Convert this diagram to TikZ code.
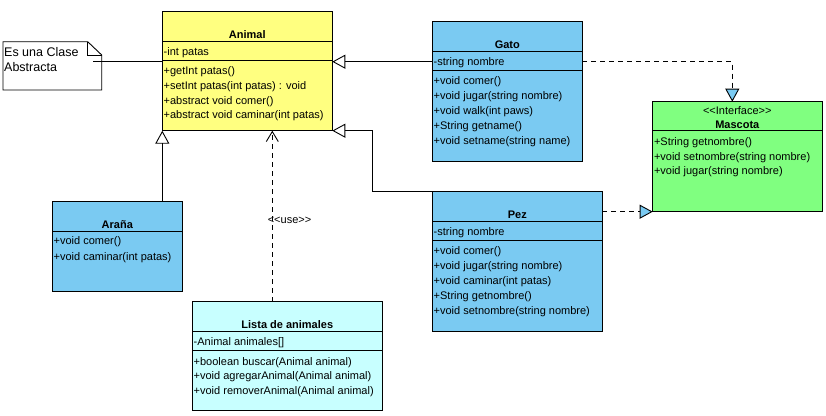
\documentclass[tikz,border=0pt]{standalone}
\usepackage{fontspec}
\newfontfamily\umlfont{Liberation Sans}
\usetikzlibrary{arrows.meta}
\definecolor{animalyellow}{RGB}{255,255,128}
\definecolor{classblue}{RGB}{122,202,242}
\definecolor{ifacegreen}{RGB}{128,255,128}
\definecolor{listcyan}{RGB}{200,255,255}
\begin{document}
\begin{tikzpicture}[x=1pt,y=-1pt,
  box/.style={draw=black, line width=0.9pt, anchor=north west, inner sep=0pt, outer sep=0pt},
  titletext/.style={font=\umlfont\fontsize{11}{13}\selectfont\bfseries, inner sep=0pt, text height=10pt, text depth=1.5pt},
  member/.style={font=\umlfont\fontsize{11}{13}\selectfont, anchor=west, inner sep=0pt, text height=10pt, text depth=1.5pt},
  stereo/.style={font=\umlfont\fontsize{11}{13}\selectfont, inner sep=0pt, text height=10pt, text depth=1.5pt},
  notetext/.style={font=\umlfont\fontsize{12.5}{15}\selectfont, anchor=west, inner sep=0pt, text height=10.5pt, text depth=1.5pt},
  sepline/.style={line width=0.9pt},
  conn/.style={line width=0.9pt},
  gen/.style={conn, -{Triangle[open, length=13pt, width=14pt]}},
  real/.style={conn, dash pattern=on 5pt off 4pt, -{Triangle[length=13pt, width=14pt, fill=classblue]}},
  usedep/.style={conn, dash pattern=on 5pt off 4pt, -{Straight Barb[length=10pt, width=12pt]}}
]
\useasboundingbox (0,0) rectangle (826,415);

% ---------- Note ----------
\node[anchor=north west, minimum width=98.7pt, minimum height=48.3pt, inner sep=0pt, outer sep=0pt] (note) at (3,41.7) {};
\draw[conn, fill=white] (note.north west) -- ([xshift=-14pt]note.north east) -- ([yshift=-13.3pt]note.north east) -- (note.south east) -- (note.south west) -- cycle;
\draw[conn] ([xshift=-14pt]note.north east) -- ([xshift=-14pt,yshift=-13.3pt]note.north east) -- ([yshift=-13.3pt]note.north east);
\node[notetext] (note1) at (4,51.7) {Es una Clase};
\node[notetext] (note2) at (4,66.7) {Abstracta};

% ---------- Animal ----------
\node[box, fill=animalyellow, minimum width=170pt, minimum height=119pt] (animal) at (162.3,11.7) {};
\node[titletext] (animalT) at (247.3,34) {Animal};
\draw[sepline] (animal.west |- 0,41.7) -- (animal.east |- 0,41.7);
\draw[sepline] (animal.west |- 0,60.7) -- (animal.east |- 0,60.7);
\node[member] (a1) at (163.5,51.3) {-int patas};
\node[member] (a2) at (163.5,70.7) {+getInt patas()};
\node[member] (a3) at (163.5,85.3) {+setInt patas(int patas) : void};
\node[member] (a4) at (163.5,99.9) {+abstract void comer()};
\node[member] (a5) at (163.5,114.7) {+abstract void caminar(int patas)};

% ---------- Gato ----------
\node[box, fill=classblue, minimum width=150pt, minimum height=139.3pt] (gato) at (432.3,21.7) {};
\node[titletext] (gatoT) at (507.3,44) {Gato};
\draw[sepline] (gato.west |- 0,51.7) -- (gato.east |- 0,51.7);
\draw[sepline] (gato.west |- 0,70.7) -- (gato.east |- 0,70.7);
\node[member] (g0) at (433.5,61.7) {-string nombre};
\node[member] (g1) at (433.5,80.7) {+void comer()};
\node[member] (g2) at (433.5,95.5) {+void jugar(string nombre)};
\node[member] (g3) at (433.5,110.3) {+void walk(int paws)};
\node[member] (g4) at (433.5,125.2) {+String getname()};
\node[member] (g5) at (433.5,140) {+void setname(string name)};

% ---------- Pez ----------
\node[box, fill=classblue, minimum width=170pt, minimum height=139.3pt] (pez) at (432.3,191.7) {};
\node[titletext] (pezT) at (517.3,214) {Pez};
\draw[sepline] (pez.west |- 0,221.7) -- (pez.east |- 0,221.7);
\draw[sepline] (pez.west |- 0,240.7) -- (pez.east |- 0,240.7);
\node[member] (p0) at (433.5,231.7) {-string nombre};
\node[member] (p1) at (433.5,250.7) {+void comer()};
\node[member] (p2) at (433.5,265.5) {+void jugar(string nombre)};
\node[member] (p3) at (433.5,280.3) {+void caminar(int patas)};
\node[member] (p4) at (433.5,295.2) {+String getnombre()};
\node[member] (p5) at (433.5,310) {+void setnombre(string nombre)};

% ---------- Mascota ----------
\node[box, fill=ifacegreen, minimum width=169.3pt, minimum height=110pt] (mascota) at (652.7,101.7) {};
\node[stereo] (mascotaS) at (737.3,110) {<<Interface>>};
\node[titletext] (mascotaT) at (737.3,124) {Mascota};
\draw[sepline] (mascota.west |- 0,130.7) -- (mascota.east |- 0,130.7);
\node[member] (m1) at (653.8,140.8) {+String getnombre()};
\node[member] (m2) at (653.8,156) {+void setnombre(string nombre)};
\node[member] (m3) at (653.8,170.7) {+void jugar(string nombre)};

% ---------- Arana ----------
\node[box, fill=classblue, minimum width=130pt, minimum height=90pt] (arana) at (52.3,201) {};
\node[titletext] (aranaT) at (117.3,224) {Araña};
\draw[sepline] (arana.west |- 0,231) -- (arana.east |- 0,231);
\node[member] (r1) at (53.5,240.7) {+void comer()};
\node[member] (r2) at (53.5,256.7) {+void caminar(int patas)};

% ---------- Lista de animales ----------
\node[box, fill=listcyan, minimum width=190pt, minimum height=109pt] (lista) at (192.3,301.7) {};
\node[titletext] (listaT) at (287.3,324.3) {Lista de animales};
\draw[sepline] (lista.west |- 0,331.7) -- (lista.east |- 0,331.7);
\draw[sepline] (lista.west |- 0,350.7) -- (lista.east |- 0,350.7);
\node[member] (l0) at (193.5,341.7) {-Animal animales[]};
\node[member] (l1) at (193.5,361) {+boolean buscar(Animal animal)};
\node[member] (l2) at (193.5,375.7) {+void agregarAnimal(Animal animal)};
\node[member] (l3) at (193.5,390.3) {+void removerAnimal(Animal animal)};

% ---------- Connectors ----------
\coordinate (noteend) at (93.3,61);
\draw[conn] (noteend) -- (animal.west |- noteend);

\coordinate (gatoline) at (0,61.7);
\draw[gen] (gato.west |- gatoline) -- (animal.east |- gatoline);

\coordinate (pezbend) at (372.3,0);
\draw[gen] (pez.north west) -- (pezbend |- pez.north west) -- (pezbend |- animal.south east) -- (animal.south east);

\draw[gen] (animal.south west |- arana.north) -- (animal.south west);

\coordinate (usex) at (272.3,0);
\draw[usedep] (lista.north -| usex) -- (animal.south -| usex);
\node[stereo] (uselabel) at (289.5,219) {<<use>>};

\coordinate (realx) at (732.3,0);
\draw[real] (gato.east |- gatoline) -| (mascota.north -| realx);
\draw[real] (pez.east |- mascota.south) -- (mascota.south west);
\end{tikzpicture}
\end{document}
